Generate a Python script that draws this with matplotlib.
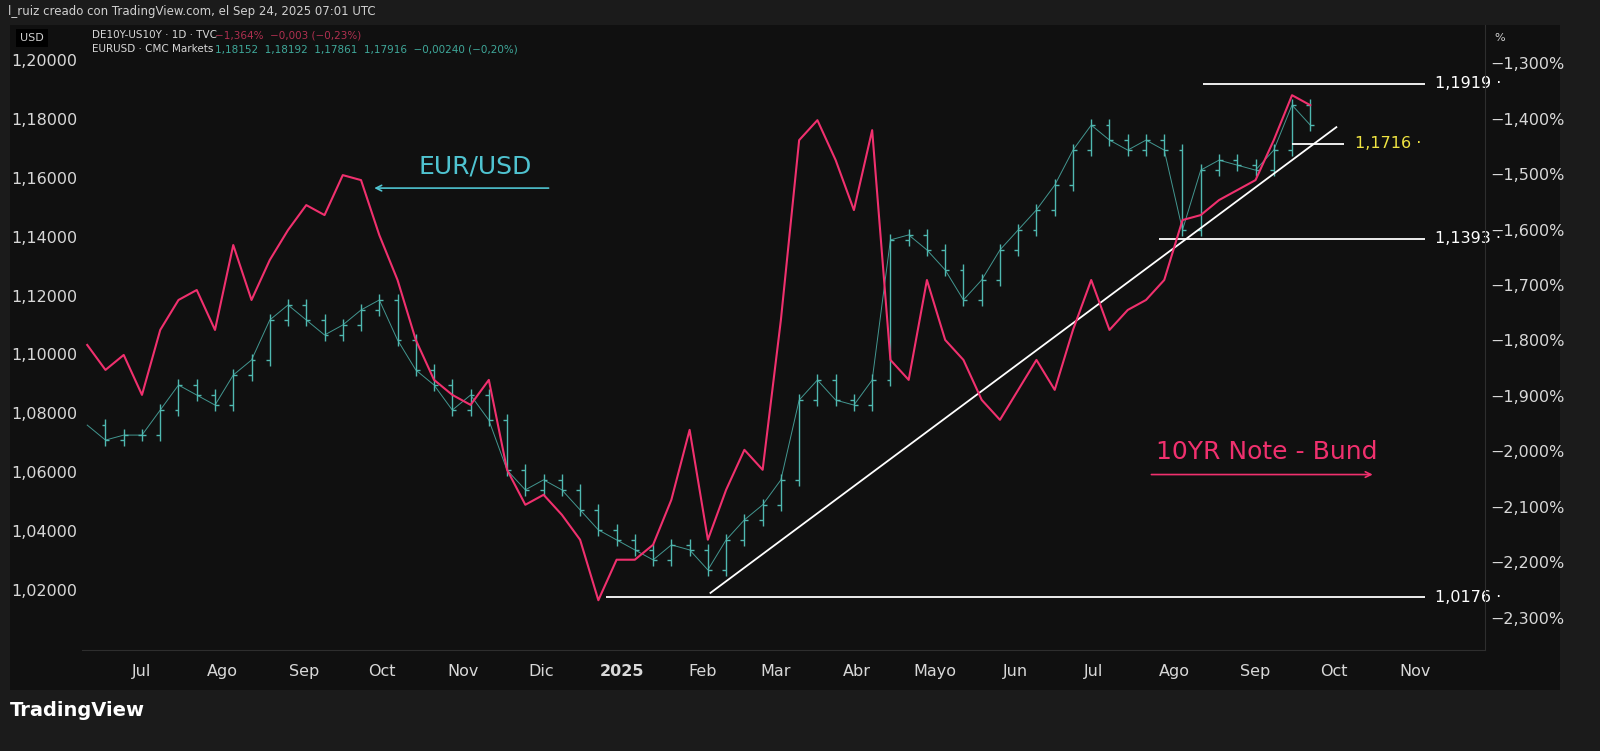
import matplotlib.pyplot as plt
import pandas as pd

# weekly samples, starting 2024-06-10
start = "2024-06-10"
eurusd = [1.0760, 1.0709, 1.0726, 1.0726, 1.0811, 1.0896, 1.0862, 1.0828, 1.0930, 1.0981,
          1.1117, 1.1168, 1.1117, 1.1066, 1.1100, 1.1151, 1.1185, 1.1049, 1.0947, 1.0896,
          1.0811, 1.0862, 1.0777, 1.0607, 1.0540, 1.0574, 1.0540, 1.0472, 1.0404, 1.0370,
          1.0336, 1.0302, 1.0353, 1.0336, 1.0268, 1.0370, 1.0438, 1.0489, 1.0574, 1.0845,
          1.0913, 1.0845, 1.0828, 1.0913, 1.1389, 1.1406, 1.1355, 1.1287, 1.1185, 1.1253,
          1.1355, 1.1423, 1.1491, 1.1575, 1.1694, 1.1779, 1.1728, 1.1694, 1.1728, 1.1694,
          1.1423, 1.1626, 1.1660, 1.1643, 1.1626, 1.1694, 1.1847, 1.1779]
spread = [-1.808, -1.853, -1.826, -1.898, -1.781, -1.727, -1.709, -1.781, -1.628, -1.727,
          -1.655, -1.601, -1.556, -1.574, -1.502, -1.511, -1.610, -1.691, -1.799, -1.871,
          -1.898, -1.916, -1.871, -2.033, -2.096, -2.078, -2.114, -2.159, -2.268, -2.195,
          -2.195, -2.168, -2.087, -1.961, -2.159, -2.069, -1.997, -2.033, -1.763, -1.439,
          -1.403, -1.475, -1.565, -1.421, -1.835, -1.871, -1.691, -1.799, -1.835, -1.907,
          -1.943, -1.889, -1.835, -1.889, -1.781, -1.691, -1.781, -1.745, -1.727, -1.691,
          -1.583, -1.574, -1.547, -1.529, -1.511, -1.439, -1.358, -1.376]

levels = [1.1919, 1.1716, 1.1393, 1.0176]
level_starts = ["2025-08-12", "2025-09-15", "2025-07-26", "2024-12-26"]
trend_dates = ["2025-02-04", "2025-10-02"]
trend_prices = [1.0190, 1.1772]

left_ticks = [1.02, 1.04, 1.06, 1.08, 1.10, 1.12, 1.14, 1.16, 1.18, 1.20]
right_ticks = [-1.3, -1.4, -1.5, -1.6, -1.7, -1.8, -1.9, -2.0, -2.1, -2.2, -2.3]
month_dates = ["2024-07-01", "2024-08-01", "2024-09-01", "2024-10-01", "2024-11-01",
               "2024-12-01", "2025-01-01", "2025-02-01", "2025-03-01", "2025-04-01",
               "2025-05-01", "2025-06-01", "2025-07-01", "2025-08-01", "2025-09-01",
               "2025-10-01", "2025-11-01"]
month_labels = ["Jul", "Ago", "Sep", "Oct", "Nov", "Dic", "2025", "Feb", "Mar", "Abr",
                "Mayo", "Jun", "Jul", "Ago", "Sep", "Oct", "Nov"]

TEAL = "#4fb8b0"
PINK = "#f0306e"
BG = "#101010"
W, H = 1600, 751

dates = pd.date_range(start, periods=len(eurusd), freq="7D")

fig = plt.figure(figsize=(16, 7.51), dpi=100, facecolor="#1b1b1b")
panel = fig.add_axes([10 / W, 1 - 690 / H, 1550 / W, 665 / H])
panel.set_facecolor(BG)
panel.set_xticks([]); panel.set_yticks([])
for s in panel.spines.values():
    s.set_visible(False)

ax = fig.add_axes([82 / W, 1 - 650 / H, 1403 / W, 625 / H])
ax.set_facecolor("none")
ax2 = ax.twinx()

ax.set_xlim(pd.Timestamp("2024-06-08"), pd.Timestamp("2025-11-28"))
ax.set_ylim(0.9996, 1.2119)
ax2.set_ylim(-2.3577, -1.2315)

# EURUSD as bar-like ticks between consecutive closes
day = pd.Timedelta(days=1.5)
for i in range(1, len(eurusd)):
    lo, hi = sorted([eurusd[i - 1], eurusd[i]])
    ax.vlines(dates[i], lo - 0.002, hi + 0.002, color=TEAL, lw=1)
    ax.hlines(eurusd[i - 1], dates[i] - day, dates[i], color=TEAL, lw=1)
    ax.hlines(eurusd[i], dates[i], dates[i] + day, color=TEAL, lw=1)
ax.plot(dates, eurusd, color=TEAL, lw=0.7, alpha=0.8)
ax2.plot(dates, spread, color=PINK, lw=1.5)

end = pd.Timestamp("2025-11-05")
for lv, st in zip(levels, level_starts):
    e = pd.Timestamp("2025-10-05") if lv == 1.1716 else end
    ax.hlines(lv, pd.Timestamp(st), e, color="white", lw=1.3)
    ax.text(e + pd.Timedelta(days=4), lv, f"{lv:.4f}".replace(".", ",") + " ·",
            color="#f0e442" if lv == 1.1716 else "white", fontsize=11.5, va="center")
ax.plot(pd.to_datetime(trend_dates), trend_prices, color="white", lw=1.3)

ax.text(pd.Timestamp("2024-10-15"), 1.164, "EUR/USD", color="#4fc3d0", fontsize=18, va="center")
ax.annotate("", xy=(pd.Timestamp("2024-09-27"), 1.1565), xytext=(pd.Timestamp("2024-12-05"), 1.1565),
            arrowprops=dict(arrowstyle="->", color="#4fc3d0", lw=1.2))
ax.text(pd.Timestamp("2025-07-25"), 1.067, "10YR Note - Bund", color=PINK, fontsize=18, va="center")
ax.annotate("", xy=(pd.Timestamp("2025-10-17"), 1.0592), xytext=(pd.Timestamp("2025-07-22"), 1.0592),
            arrowprops=dict(arrowstyle="->", color=PINK, lw=1.2))

ax.set_yticks(left_ticks)
ax.set_yticklabels([f"{v:.5f}".replace(".", ",") for v in left_ticks])
ax2.set_yticks(right_ticks)
ax2.set_yticklabels([f"−{abs(v):.3f}%".replace(".", ",") for v in right_ticks])
ax.set_xticks(pd.to_datetime(month_dates))
ax.set_xticklabels(month_labels)
for t, l in zip(ax.get_xticklabels(), month_labels):
    if l == "2025":
        t.set_fontweight("bold")
for a in (ax, ax2):
    a.tick_params(colors="#d8d8d8", labelsize=11.5, length=0)
    for s in a.spines.values():
        s.set_visible(False)
ax.tick_params(axis="x", pad=10)
ax2.spines["right"].set_visible(True)
ax2.spines["right"].set_color("#2e2e2e")
ax.spines["bottom"].set_visible(True)
ax.spines["bottom"].set_color("#2e2e2e")

fig.text(8 / W, 1 - 12 / H, "l_ruiz creado con TradingView.com, el Sep 24, 2025 07:01 UTC",
         color="#d0d0d0", fontsize=8.5, va="center")
fig.text(20 / W, 1 - 38 / H, "USD", color="#d0d0d0", fontsize=8, va="center",
         bbox=dict(facecolor="#000000", edgecolor="none", pad=3))
fig.text(1494 / W, 1 - 38 / H, "%", color="#d0d0d0", fontsize=8, va="center")
fig.text(92 / W, 1 - 35 / H, "DE10Y-US10Y · 1D · TVC", color="#d8d8d8", fontsize=7.5, va="center")
fig.text(215 / W, 1 - 35 / H, "−1,364%  −0,003 (−0,23%)", color="#b03050", fontsize=7.5, va="center")
fig.text(92 / W, 1 - 49 / H, "EURUSD · CMC Markets", color="#d8d8d8", fontsize=7.5, va="center")
fig.text(215 / W, 1 - 49 / H, "1,18152  1,18192  1,17861  1,17916  −0,00240 (−0,20%)",
         color="#3fa89a", fontsize=7.5, va="center")
fig.text(10 / W, 1 - 710 / H, "TradingView", color="white", fontsize=14, fontweight="bold", va="center")

fig.savefig("out.png", dpi=100, facecolor=fig.get_facecolor())
